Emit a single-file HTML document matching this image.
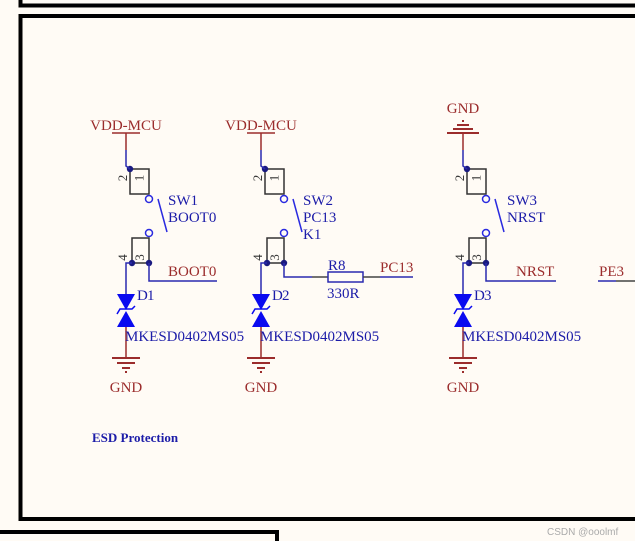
<!DOCTYPE html>
<html><head><meta charset="utf-8"><style>
html,body{margin:0;padding:0;background:#fffbf5;}
svg{display:block;}
text{font-family:"Liberation Serif",serif;}
.r{fill:#9b2c2c;font-size:15px;}
.b{fill:#1c1ca8;font-size:15px;}
.p{fill:#333;font-size:13px;}
</style></head><body>
<svg width="635" height="541" viewBox="0 0 635 541" xmlns="http://www.w3.org/2000/svg">
<rect width="635" height="541" fill="#fffbf5"/>
<path d="M20.5 0 V5.5 H635" fill="none" stroke="#000" stroke-width="4"/>
<path d="M20.5 521 V16 H635 M20.5 519 H635" fill="none" stroke="#000" stroke-width="4"/>
<path d="M0 532 H277 V541" fill="none" stroke="#000" stroke-width="4"/>
<text x="547" y="535" font-size="10" fill="#aaa" style="font-family:'Liberation Sans',sans-serif">CSDN @ooolmf</text>

<defs>
<g id="col">
  <rect x="130" y="169" width="19" height="25" fill="none" stroke="#333" stroke-width="1.5"/>
  <text x="123" y="182" class="p" text-anchor="middle" transform="rotate(-90 123 178)">2</text>
  <text x="139.5" y="182" class="p" text-anchor="middle" transform="rotate(-90 139.5 178)">1</text>
  <circle cx="149" cy="199" r="3.5" fill="none" stroke="#2a2ae0" stroke-width="1.5"/>
  <line x1="158" y1="199" x2="167" y2="232" stroke="#2a2ae0" stroke-width="1.5"/>
  <circle cx="149" cy="233" r="3.5" fill="none" stroke="#2a2ae0" stroke-width="1.5"/>
  <rect x="132" y="238" width="17" height="25" fill="none" stroke="#333" stroke-width="1.5"/>
  <text x="123" y="261.5" class="p" text-anchor="middle" transform="rotate(-90 123 257.5)">4</text>
  <text x="140" y="261.5" class="p" text-anchor="middle" transform="rotate(-90 140 257.5)">3</text>
  <circle cx="132" cy="263" r="3.2" fill="#1a1a80"/>
  <circle cx="149" cy="263" r="3.2" fill="#1a1a80"/>
  <circle cx="130" cy="169" r="3.2" fill="#1a1a80"/>
  <path d="M132 263 H126 V295" fill="none" stroke="#2a2ab0" stroke-width="1.5"/>
  <polygon points="117,294 135,294 126,310" fill="#0a0af0"/>
  <polygon points="117,327 135,327 126,311" fill="#0a0af0"/>
  <path d="M117 314 L120 309 H132 L135 306" fill="none" stroke="#0a0af0" stroke-width="1.5"/>
  <line x1="126" y1="327" x2="126" y2="358" stroke="#9b2c2c" stroke-width="1.5"/>
  <line x1="112" y1="358" x2="140" y2="358" stroke="#9b2c2c" stroke-width="2"/>
  <line x1="117" y1="363" x2="135" y2="363" stroke="#9b2c2c" stroke-width="2"/>
  <line x1="122" y1="368" x2="130" y2="368" stroke="#9b2c2c" stroke-width="2"/>
  <line x1="125" y1="372" x2="127" y2="372" stroke="#9b2c2c" stroke-width="2"/>
  <text x="126" y="392" class="r" text-anchor="middle">GND</text>
  <text x="137" y="300" class="b">D</text>
  <text x="125" y="341" class="b">MKESD0402MS05</text>
</g>
</defs>

<use href="#col"/>
<text x="126" y="130" class="r" text-anchor="middle">VDD-MCU</text>
<line x1="112" y1="133" x2="140" y2="133" stroke="#9b2c2c" stroke-width="1.5"/>
<line x1="126" y1="133" x2="126" y2="150" stroke="#9b2c2c" stroke-width="1.5"/>
<path d="M126 150 V166 L130 169" fill="none" stroke="#2a2ab0" stroke-width="1.5"/>
<text x="147" y="300" class="b">1</text>
<text x="168" y="205" class="b">SW1</text>
<text x="168" y="222" class="b">BOOT0</text>
<path d="M149 263 V281 H217" fill="none" stroke="#2a2ab0" stroke-width="1.5"/>
<text x="168" y="276" class="r">BOOT0</text>

<use href="#col" transform="translate(135 0)"/>
<text x="261" y="130" class="r" text-anchor="middle">VDD-MCU</text>
<line x1="247" y1="133" x2="275" y2="133" stroke="#9b2c2c" stroke-width="1.5"/>
<line x1="261" y1="133" x2="261" y2="150" stroke="#9b2c2c" stroke-width="1.5"/>
<path d="M261 150 V166 L265 169" fill="none" stroke="#2a2ab0" stroke-width="1.5"/>
<text x="282" y="300" class="b">2</text>
<text x="303" y="205" class="b">SW2</text>
<text x="303" y="222" class="b">PC13</text>
<text x="303" y="239" class="b">K1</text>
<path d="M284 263 V277 H312" fill="none" stroke="#2a2ab0" stroke-width="1.5"/>
<line x1="312" y1="277" x2="328" y2="277" stroke="#444" stroke-width="1.5"/>
<rect x="328" y="272" width="35" height="10" fill="none" stroke="#2a2ab0" stroke-width="1.5"/>
<line x1="363" y1="277" x2="380" y2="277" stroke="#444" stroke-width="1.5"/>
<line x1="380" y1="277" x2="413" y2="277" stroke="#2a2ab0" stroke-width="1.5"/>
<text x="328" y="270" class="b">R8</text>
<text x="327" y="298" class="b">330R</text>
<text x="380" y="272" class="r">PC13</text>

<use href="#col" transform="translate(337 0)"/>
<text x="463" y="113" class="r" text-anchor="middle">GND</text>
<line x1="462" y1="121" x2="464" y2="121" stroke="#9b2c2c" stroke-width="2"/>
<line x1="457" y1="125" x2="469" y2="125" stroke="#9b2c2c" stroke-width="2"/>
<line x1="453" y1="129" x2="473" y2="129" stroke="#9b2c2c" stroke-width="2"/>
<line x1="447" y1="133" x2="479" y2="133" stroke="#9b2c2c" stroke-width="2"/>
<line x1="463" y1="133" x2="463" y2="150" stroke="#9b2c2c" stroke-width="1.5"/>
<path d="M463 150 V166 L467 169" fill="none" stroke="#2a2ab0" stroke-width="1.5"/>
<text x="484" y="300" class="b">3</text>
<text x="507" y="205" class="b">SW3</text>
<text x="507" y="222" class="b">NRST</text>
<path d="M486 263 V281 H556" fill="none" stroke="#2a2ab0" stroke-width="1.5"/>
<text x="516" y="276" class="r">NRST</text>

<line x1="598" y1="281" x2="616" y2="281" stroke="#2a2ab0" stroke-width="1.5"/>
<line x1="616" y1="281" x2="635" y2="281" stroke="#444" stroke-width="1.5"/>
<text x="599" y="276" class="r">PE3</text>

<text x="92" y="442" fill="#1c1ca8" font-size="13" font-weight="bold">ESD Protection</text>
</svg>
</body></html>
